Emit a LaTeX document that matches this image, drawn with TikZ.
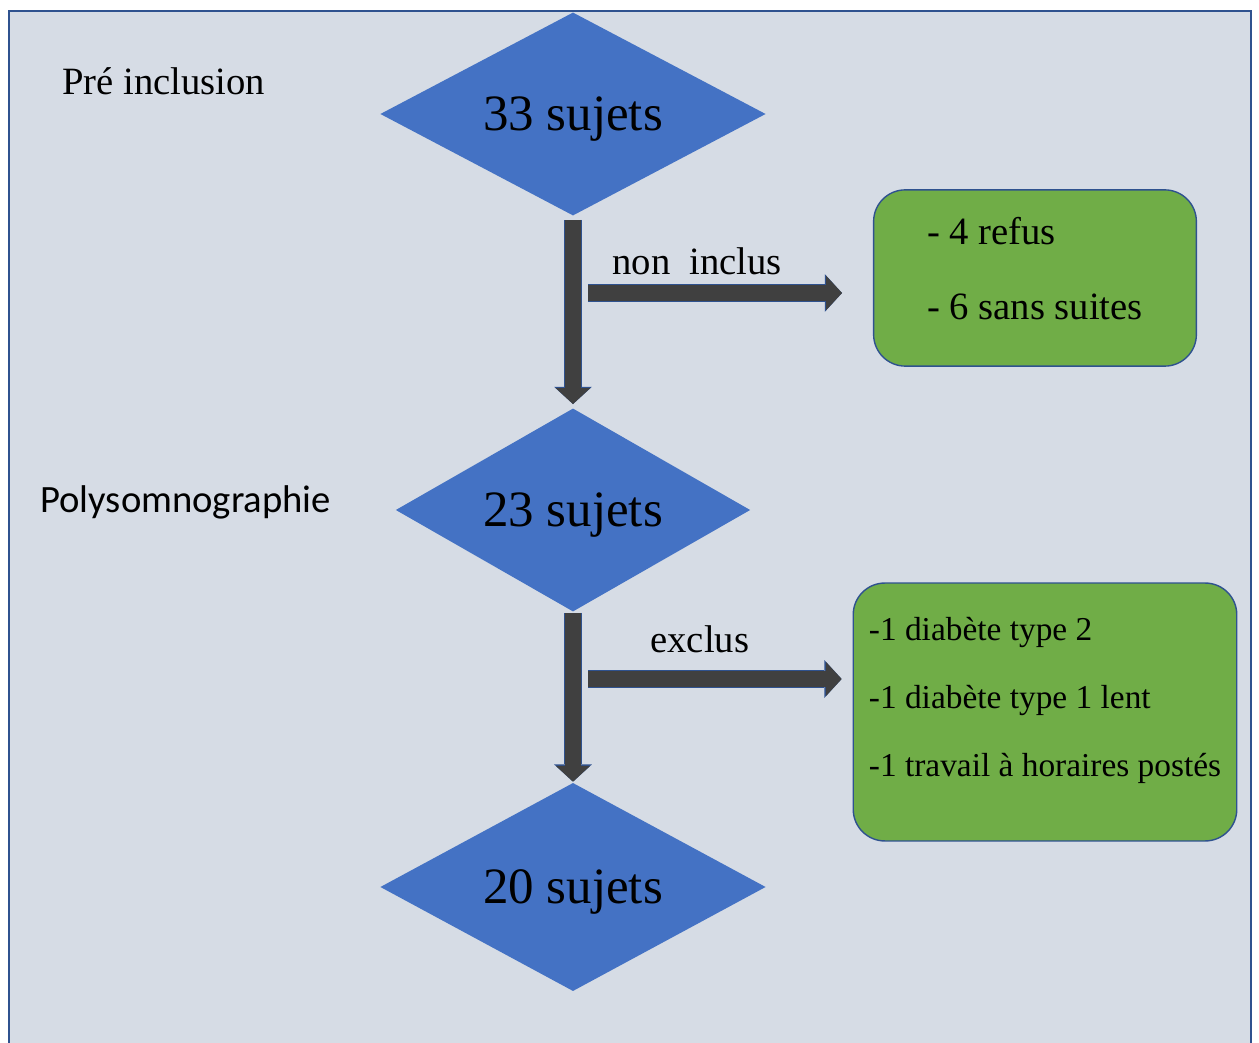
\documentclass[tikz,border=0pt]{standalone}
\usepackage{fontspec}
\setmainfont{Liberation Serif}
\newfontfamily\calibri{Carlito}
\usetikzlibrary{shapes.geometric,arrows.meta}
\definecolor{fondgris}{HTML}{D6DCE5}
\definecolor{bleudiam}{HTML}{4472C4}
\definecolor{vertbox}{HTML}{70AD47}
\definecolor{bleutrait}{HTML}{2F528F}
\definecolor{grisfleche}{HTML}{404040}
\tikzset{
    losange/.style={diamond, fill=bleudiam, inner sep=0pt, text depth=0pt, font=\fontsize{29}{35}\selectfont},
    boite/.style={rectangle, rounded corners=18pt, fill=vertbox, draw=bleutrait, line width=0.8pt, align=left},
    fleche/.style={grisfleche, line width=9pt, arrows={-Triangle[length=9pt, width=19.5pt, line width=0pt]},
        preaction={draw=bleutrait, line width=10.6pt, arrows={-Triangle[length=9.8pt, width=21.5pt, line width=0pt]}}},
    etiquette/.style={inner sep=0pt, anchor=base west, font=\fontsize{22}{26}\selectfont},
}
\begin{document}
\begin{tikzpicture}[x=0.02cm, y=-0.02cm]
    \useasboundingbox (0,0) rectangle (1259,1043);
    \fill[fondgris] (9,11) rectangle (1251,1043);
    \draw[bleutrait, line width=0.9pt] (9,1043) -- (9,11) -- (1251,11) -- (1251,1043);

    \node[losange, aspect=1.9, minimum width=219.4pt, minimum height=115.6pt] (d33) at (573,114) {33 sujets};
    \node[losange, aspect=1.75, minimum width=201.8pt, minimum height=115.6pt] (d23) at (573,510) {23 sujets};
    \node[losange, aspect=1.85, minimum width=219.4pt, minimum height=118.5pt] (d20) at (573,887) {20 sujets};

    \node[boite, minimum width=183.7pt, minimum height=100.3pt, text depth=10.8pt,
        font=\fontsize{22}{42.5}\selectfont] (refus) at (1035,278) {- 4 refus\\- 6 sans suites};
    \node[boite, minimum width=218.3pt, minimum height=146.8pt, text depth=17pt,
        font=\fontsize{19}{38.8}\selectfont] (exclus) at (1045,712)
        {-1 diabète type 2\\-1 diabète type 1 lent\\-1 travail à horaires postés};

    \node[etiquette] (pre) at (62,95) {Pré inclusion};
    \node[etiquette, font=\calibri\fontsize{22}{26}\selectfont] (poly) at (40,513) {Polysomnographie};
    \node[etiquette] (noninc) at (612,275) {non\ \ inclus};
    \node[etiquette] (excl) at (650,653) {exclus};

    \coordinate (depart1) at (588,293);
    \coordinate (depart2) at (588,679);

    \draw[fleche, shorten <=2.3pt, shorten >=2.3pt] (d33) -- (d23);
    \draw[fleche, shorten <=0.5pt, shorten >=0.5pt] (d23) -- (d20);
    \draw[fleche, shorten >=17.6pt] (depart1) -- (depart1 -| refus.west);
    \draw[fleche, shorten >=6.2pt] (depart2) -- (depart2 -| exclus.west);
\end{tikzpicture}
\end{document}
